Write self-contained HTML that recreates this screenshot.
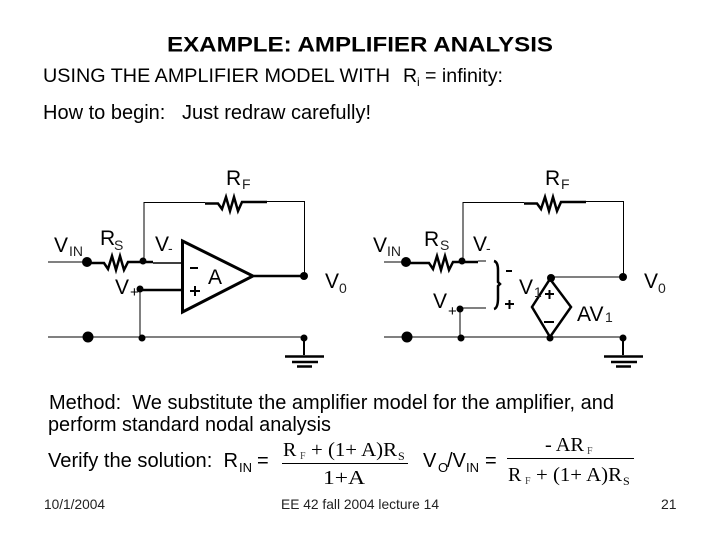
<!DOCTYPE html>
<html><head><meta charset="utf-8"><style>
html,body{margin:0;padding:0;background:#fff}
svg{display:block}
text{font-family:"Liberation Sans",sans-serif;fill:#000}
.s{font-family:"Liberation Serif",serif}
.l{font-size:21px}
.u{font-size:14px;fill:#222}
</style></head><body>
<svg width="720" height="540" viewBox="0 0 720 540" xmlns="http://www.w3.org/2000/svg">
<text x="167" y="51.500" font-size="21" font-weight="bold" textLength="386" lengthAdjust="spacingAndGlyphs">EXAMPLE: AMPLIFIER ANALYSIS</text>
<text x="43" y="82" font-size="19.500" textLength="347" lengthAdjust="spacingAndGlyphs">USING THE AMPLIFIER MODEL WITH</text>
<text x="403" y="82" font-size="19.500">R</text>
<text x="417" y="86" font-size="12">i</text>
<text x="425" y="82" font-size="19.500" textLength="78" lengthAdjust="spacingAndGlyphs">= infinity:</text>
<text x="43" y="119" font-size="20" textLength="328" lengthAdjust="spacingAndGlyphs" xml:space="preserve">How to begin:   Just redraw carefully!</text>

<!-- Left circuit -->
<g fill="none" stroke="#000" stroke-linejoin="miter">
<path d="M144 262V202.500H205M267 201.500H304.500V276" stroke-width="1"/>
<path d="M205 203.500H218L222 209 226 197 230 211 234 197 238 211 242 202H267" stroke-width="2.500"/>
<path d="M48 262H83" stroke-width="1"/>
<path d="M87 263H104L108 269 112 256 116 270 120 256 124 270 128 262H153" stroke-width="2.500"/>
<path d="M153 263H182" stroke-width="1.500"/>
<path d="M140 290H182M254 276H304" stroke-width="2.500"/>
<path d="M182.500 241 253 276 182.500 312Z" stroke-width="3"/>
<path d="M48 337H304" stroke-width="1"/>
<path d="M140 289V337" stroke-width="1"/>
<path d="M304 337V355" stroke-width="2"/>
<path d="M285 356.500H324" stroke-width="2.500"/>
<path d="M292 362H318" stroke-width="2.500"/>
<path d="M297 366.500H312" stroke-width="2.500"/>
<path d="M190 268H198M190 291H200M195 286V296" stroke-width="2"/>
</g>
<g fill="#000">
<circle cx="87" cy="262" r="5"/><circle cx="143" cy="261" r="3.500"/><circle cx="140" cy="289" r="3.500"/>
<circle cx="304" cy="276" r="4"/><circle cx="88" cy="337" r="5.500"/><circle cx="142" cy="338" r="3.500"/><circle cx="304" cy="338" r="3.500"/>
</g>
<text x="226" y="185" class="l">R</text><text x="242" y="189" class="u">F</text>
<text x="54" y="252" class="l">V</text><text x="69" y="256" class="u">IN</text>
<text x="100" y="245" class="l">R</text><text x="114" y="250" class="u">S</text>
<text x="155" y="251" class="l">V</text><text x="168" y="253" class="u">-</text>
<text x="115" y="294" class="l">V</text><text x="130" y="297" font-size="15">+</text>
<text x="208" y="284" class="l">A</text>
<text x="325" y="288" class="l">V</text><text x="339" y="293" class="u">0</text>

<!-- Right circuit -->
<g fill="none" stroke="#000">
<path d="M463 262V202.500H524M586 201.500H623.500V276" stroke-width="1"/>
<path d="M524 203.500H537L541 209 545 197 549 211 553 197 557 211 561 202H586" stroke-width="2.500"/>
<path d="M384 262H404" stroke-width="1"/>
<path d="M406 263H429L433 269 437 256 441 270 445 256 449 270 453 262H478" stroke-width="2.500"/>
<path d="M478 261H486M460 308H486" stroke-width="1"/>
<path d="M550 277H623" stroke-width="1"/>
<path d="M550 279 571 307 550 337 532 307Z" stroke-width="2.500"/>
<path d="M494 261Q498 262 498 270V282L500 284 498 286V298Q498 308 494 309" stroke-width="2.500"/>
<path d="M384 337H623" stroke-width="1"/>
<path d="M460 308V337" stroke-width="1"/>
<path d="M623 337V355" stroke-width="2"/>
<path d="M604 356.500H643" stroke-width="2.500"/>
<path d="M611 362H637" stroke-width="2.500"/>
<path d="M616 366.500H631" stroke-width="2.500"/>
<path d="M506 271H512M505 304H514M509.500 300V309" stroke-width="2"/>
<path d="M545 294H554M549.500 290V299M544 322H554" stroke-width="2"/>
</g>
<g fill="#000">
<circle cx="406" cy="262" r="5"/><circle cx="462" cy="261" r="3.500"/><circle cx="460" cy="309" r="3.500"/>
<circle cx="551" cy="278" r="4"/><circle cx="623" cy="277" r="4"/>
<circle cx="407" cy="337" r="5.500"/><circle cx="461" cy="338" r="3.500"/><circle cx="550" cy="338" r="3.500"/><circle cx="623" cy="338" r="3.500"/>
</g>
<text x="545" y="185" class="l">R</text><text x="561" y="189" class="u">F</text>
<text x="373" y="252" class="l">V</text><text x="387" y="256" class="u">IN</text>
<text x="424" y="246" class="l">R</text><text x="440" y="250" class="u">S</text>
<text x="473" y="251" class="l">V</text><text x="486" y="253" class="u">-</text>
<text x="433" y="308" class="l">V</text><text x="448" y="316" font-size="15">+</text>
<text x="519" y="294" class="l">V</text><text x="534" y="297" class="u">1</text>
<text x="577" y="321" class="l">AV</text><text x="605" y="322" class="u">1</text>
<text x="644" y="288" class="l">V</text><text x="658" y="293" class="u">0</text>

<!-- Bottom text -->
<text x="49" y="409" font-size="20" textLength="565" lengthAdjust="spacingAndGlyphs" xml:space="preserve">Method:  We substitute the amplifier model for the amplifier, and</text>
<text x="48" y="431" font-size="20" textLength="283" lengthAdjust="spacingAndGlyphs">perform standard nodal analysis</text>
<text x="48" y="467" font-size="20" textLength="190" lengthAdjust="spacingAndGlyphs" xml:space="preserve">Verify the solution:  R</text>
<text x="239" y="472" font-size="13">IN</text>
<text x="257" y="467" font-size="20">=</text>
<text x="423" y="467" font-size="20">V</text><text x="438" y="472" font-size="13">O</text>
<text x="447" y="467" font-size="20">/V</text><text x="466" y="472" font-size="13">IN</text>
<text x="485" y="467" font-size="20">=</text>

<path d="M282 463.500H408M507 458.500H634" stroke="#000" stroke-width="1" fill="none"/>
<text class="s" x="283" y="456" font-size="20">R</text><text class="s" x="300" y="459" font-size="10" style="fill:#444">F</text>
<text class="s" x="311" y="456" font-size="20" textLength="86" lengthAdjust="spacingAndGlyphs">+ (1+ A)R</text><text class="s" x="398" y="460" font-size="12">S</text>
<text class="s" x="323" y="484" font-size="20" textLength="42" lengthAdjust="spacingAndGlyphs">1+A</text>
<text class="s" x="545" y="451" font-size="20" textLength="39" lengthAdjust="spacingAndGlyphs">- AR</text><text class="s" x="587" y="454" font-size="10" style="fill:#444">F</text>
<text class="s" x="508" y="481" font-size="20">R</text><text class="s" x="525" y="484" font-size="10" style="fill:#444">F</text>
<text class="s" x="536" y="481" font-size="20" textLength="86" lengthAdjust="spacingAndGlyphs">+ (1+ A)R</text><text class="s" x="623" y="485" font-size="12">S</text>
<text x="44" y="509" font-size="14" textLength="61" lengthAdjust="spacingAndGlyphs" style="fill:#222">10/1/2004</text>
<text x="281" y="509" font-size="14" textLength="158" lengthAdjust="spacingAndGlyphs" style="fill:#222">EE 42 fall 2004 lecture 14</text>
<text x="661" y="509" font-size="14" style="fill:#222">21</text>
</svg>
</body></html>
